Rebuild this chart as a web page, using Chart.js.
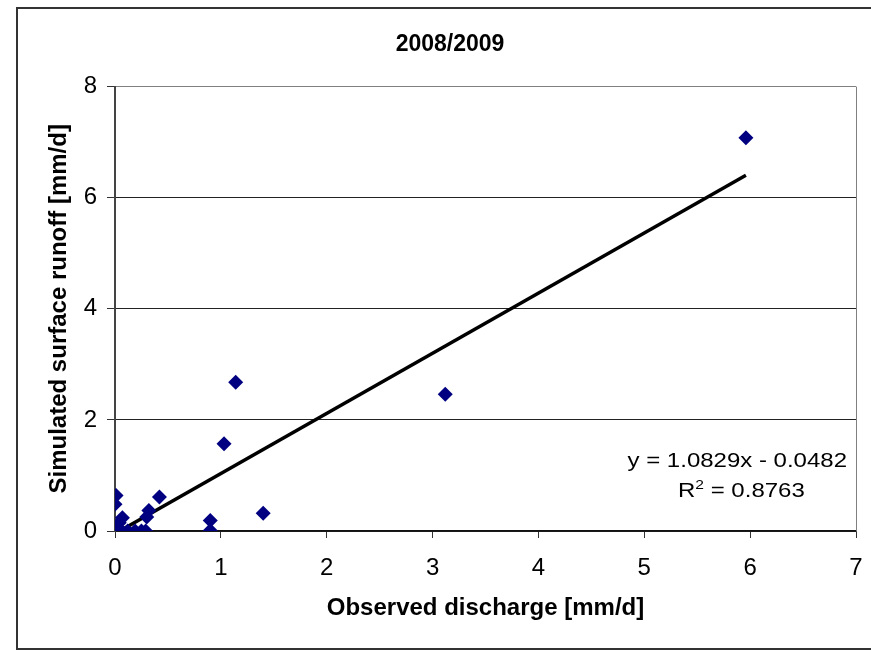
<!DOCTYPE html>
<html>
<head>
<meta charset="utf-8">
<script src="https://cdn.jsdelivr.net/npm/chart.js@4"></script>
<style>
  html, body { margin: 0; padding: 0; background: #fff; overflow: hidden; }
  #wrap { position: absolute; left: 0; top: 0; width: 871px; height: 650px; }
  #frame { position: absolute; left: 16px; top: 7px; width: 900px; height: 639px; border: 2px solid #333; pointer-events: none; }
</style>
</head>
<body>
<div id="wrap"><canvas id="chart" width="871" height="650"></canvas></div>
<div id="frame"></div>
<script>
const observed = [5.96, 3.12, 1.14, 1.03, 1.40, 0.90, 0.90, 0.42, 0.01, 0.00, 0.32, 0.30, 0.07, 0.04, 0.00, 0.02, 0.06, 0.19, 0.25, 0.29, 0.12];
const simulated = [7.08, 2.46, 2.68, 1.57, 0.32, 0.19, 0.01, 0.61, 0.64, 0.48, 0.37, 0.25, 0.24, 0.15, 0.00, 0.03, 0.00, 0.00, 0.00, 0.00, 0.00];
const trendSlope = 1.0829;
const trendIntercept = -0.0482;
const eqLine = 'y = 1.0829x - 0.0482';
const r2Value = ' = 0.8763';

const FONT = '"Liberation Sans", Arial, sans-serif';
const points = observed.map((x, i) => ({ x: x, y: simulated[i] }));
const xMin = Math.min(...observed), xMax = Math.max(...observed);
const trend = [xMin, xMax].map(x => ({ x: x, y: trendSlope * x + trendIntercept }));

// right edge of the plot box + the trendline equation (Excel label)
const plotFrame = {
  id: 'plotFrame',
  afterDatasetsDraw(chart) {
    const a = chart.chartArea, ctx = chart.ctx;
    ctx.save();
    ctx.strokeStyle = '#808080';
    ctx.lineWidth = 1;
    ctx.beginPath();
    ctx.moveTo(a.right + 0.5, a.top);
    ctx.lineTo(a.right + 0.5, a.bottom);
    ctx.stroke();

    ctx.fillStyle = '#000';
    ctx.textBaseline = 'alphabetic';
    ctx.font = '20px ' + FONT;
    ctx.save();
    ctx.translate(847, 467);
    ctx.scale(1.2, 1);
    ctx.textAlign = 'right';
    ctx.fillText(eqLine, 0, 0);
    ctx.restore();

    ctx.save();
    ctx.translate(678, 497);
    ctx.scale(1.2, 1);
    ctx.textAlign = 'left';
    ctx.fillText('R', 0, 0);
    let w = ctx.measureText('R').width;
    ctx.font = '13px ' + FONT;
    ctx.fillText('2', w, -8);
    w += ctx.measureText('2').width;
    ctx.font = '20px ' + FONT;
    ctx.fillText(r2Value, w, 0);
    ctx.restore();
    ctx.restore();
  }
};

new Chart(document.getElementById('chart').getContext('2d'), {
  type: 'scatter',
  data: {
    datasets: [
      {
        data: points,
        backgroundColor: '#000080',
        borderColor: '#000080',
        borderWidth: 0,
        pointStyle: 'rectRot',
        pointRadius: 7.5
      },
      {
        type: 'line',
        data: trend,
        borderColor: '#000',
        borderWidth: 3.5,
        pointRadius: 0,
        fill: false
      }
    ]
  },
  options: {
    responsive: false,
    animation: false,
    layout: { padding: { left: 44, right: 15, top: 0, bottom: 24 } },
    plugins: {
      legend: { display: false },
      tooltip: { enabled: false },
      title: {
        display: true,
        text: '2008/2009',
        color: '#000',
        font: { family: FONT, size: 23, weight: 'bold' },
        padding: { top: 31, bottom: 28 }
      }
    },
    scales: {
      x: {
        type: 'linear',
        min: 0, max: 7,
        ticks: { stepSize: 1, color: '#000', padding: 16, font: { family: FONT, size: 24 } },
        grid: { drawOnChartArea: false, tickLength: 7, color: '#333' },
        border: { color: '#111', width: 1.5 },
        title: {
          display: true,
          text: 'Observed discharge [mm/d]',
          color: '#000',
          font: { family: FONT, size: 24, weight: 'bold' },
          padding: { top: 4, bottom: 3 }
        },
        afterFit(scale) {
          scale.height = 95;
          scale.paddingRight = 0;
          scale.paddingLeft = 0;
        }
      },
      y: {
        min: 0, max: 8,
        ticks: { stepSize: 2, color: '#000', padding: 10, font: { family: FONT, size: 24 } },
        grid: {
          tickLength: 8,
          color: ctx => (ctx.tick && ctx.tick.value === 8) ? '#808080' : '#222',
          tickColor: '#333'
        },
        border: { color: '#444', width: 2 },
        title: {
          display: true,
          text: 'Simulated surface runoff [mm/d]',
          color: '#000',
          font: { family: FONT, size: 24, weight: 'bold' },
          padding: { top: 1, bottom: 4 }
        },
        afterFit(scale) { scale.width = 71; }
      }
    }
  },
  plugins: [plotFrame]
});
</script>
</body>
</html>
